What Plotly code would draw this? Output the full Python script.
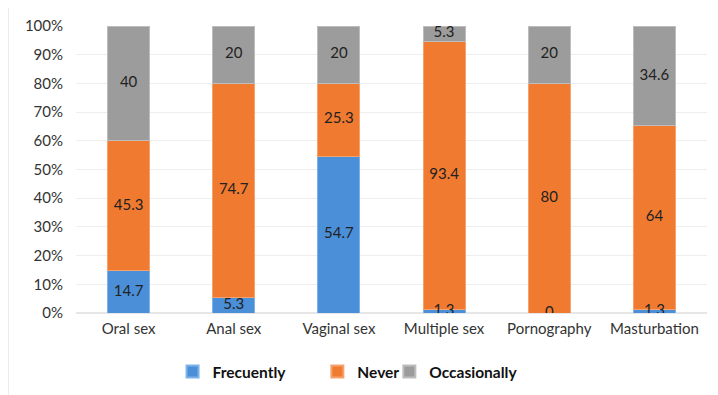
import plotly.graph_objects as go
import numpy as np

categories = ["Oral sex", "Anal sex", "Vaginal sex", "Multiple sex", "Pornography", "Masturbation"]
frecuently = [14.7, 5.3, 54.7, 1.3, 0, 1.3]
never = [45.3, 74.7, 25.3, 93.4, 80, 64]
occasionally = [40, 20, 20, 5.3, 20, 34.6]
series_names = ["Frecuently", "Never", "Occasionally"]
y_ticks = [0, 10, 20, 30, 40, 50, 60, 70, 80, 90, 100]
y_tick_labels = [f"{t}%" for t in y_ticks]

colors = ["#4a8fd8", "#f07a30", "#9c9c9c"]
edge_colors = ["#7db3e8", "#f6a26f", "#bdbdbd"]
legend_ids = ["legend", "legend2", "legend3"]
legend_x = [0.153, 0.3825, 0.4966]
font_family = "Lato, 'Open Sans', sans-serif"

fig = go.Figure()
series = [frecuently, never, occasionally]
base = np.zeros(len(categories))
for name, vals, c, ec, lid in zip(series_names, series, colors, edge_colors, legend_ids):
    vals = np.array(vals, dtype=float)
    fig.add_trace(go.Bar(
        x=categories, y=vals, name=name, legend=lid,
        marker=dict(color=c, line=dict(color=ec, width=1)),
        hoverinfo="skip",
    ))
    mids = base + vals / 2
    fig.add_trace(go.Scatter(
        x=categories, y=mids, mode="text",
        text=[f"{v:g}" for v in vals],
        textfont=dict(family=font_family, size=15, color="#222222"),
        showlegend=False, hoverinfo="skip",
    ))
    base = base + vals

legend_common = dict(orientation="h", xanchor="left", y=-0.2056, yanchor="middle",
                     font=dict(size=15.5, color="#111111", weight="bold"),
                     itemsizing="constant", bgcolor="rgba(0,0,0,0)")

fig.update_layout(
    barmode="stack",
    bargap=0.6,
    width=718, height=395,
    margin=dict(l=68, r=19, t=18, b=90, autoexpand=False),
    paper_bgcolor="white",
    plot_bgcolor="white",
    font=dict(family=font_family, size=14, color="#333333"),
    xaxis=dict(showgrid=False, showline=False, ticks="", tickfont=dict(size=15, color="#333333"),
               ticklabelstandoff=5),
    yaxis=dict(range=[0, 100], tickvals=y_ticks, ticktext=y_tick_labels,
               showgrid=True, gridcolor="#eeeeee", gridwidth=1, zeroline=True,
               zerolinecolor="#e6e6e6", tickfont=dict(size=15, color="#333333"),
               ticklabelstandoff=12),
    legend=dict(x=legend_x[0], **legend_common),
    legend2=dict(x=legend_x[1], **legend_common),
    legend3=dict(x=legend_x[2], **legend_common),
    shapes=[dict(type="line", xref="paper", yref="paper", x0=-0.1070, x1=-0.1070,
                 y0=-0.32, y1=1.07, line=dict(color="#ececec", width=1), layer="below")],
)

fig.write_html("out.html")
